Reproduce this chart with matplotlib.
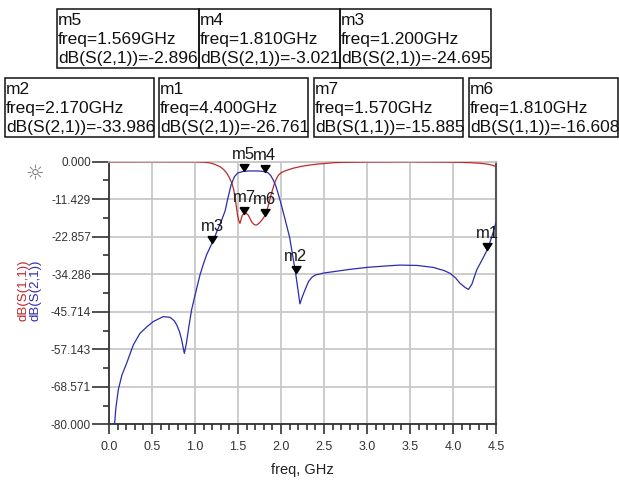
import numpy as np
import matplotlib
matplotlib.use('Agg')
import matplotlib.pyplot as plt
from matplotlib.patches import Rectangle
from matplotlib.path import Path

plt.rcParams['font.family'] = ['Liberation Sans', 'DejaVu Sans']

# S(2,1) trace (GHz, dB)
s21_freq = [0.065, 0.08, 0.108, 0.15, 0.205, 0.283, 0.36, 0.44, 0.515, 0.63, 0.71, 0.76,
            0.787, 0.82, 0.845, 0.876, 0.90, 0.93, 0.96, 0.99, 1.03, 1.06, 1.10, 1.136,
            1.20, 1.27, 1.30, 1.35, 1.38, 1.42, 1.46, 1.50, 1.569, 1.65, 1.75, 1.81,
            1.85, 1.88, 1.91, 1.94, 1.97, 2.00, 2.05, 2.10, 2.17, 2.20, 2.22, 2.25,
            2.28, 2.32, 2.36, 2.40, 2.50, 2.61, 2.80, 3.00, 3.20, 3.38, 3.58, 3.77,
            3.90, 3.965, 4.03, 4.08, 4.14, 4.18, 4.22, 4.275, 4.34, 4.40, 4.45, 4.50]
s21_db = [-80.0, -75.0, -69.5, -65.0, -61.4, -55.8, -52.3, -50.3, -48.7, -47.2, -47.4, -48.5,
          -49.7, -51.8, -54.3, -58.4, -55.3, -50.0, -45.2, -41.8, -37.5, -34.3, -31.0, -28.3,
          -24.695, -20.3, -18.5, -15.0, -11.4, -7.0, -4.5, -3.4, -2.896, -2.8, -2.85, -3.021,
          -3.4, -4.2, -5.6, -7.4, -10.0, -12.8, -17.8, -23.0, -33.986, -39.5, -43.3, -41.0,
          -39.0, -36.5, -35.2, -34.5, -33.9, -33.5, -32.8, -32.2, -31.8, -31.5, -31.6, -32.2,
          -33.2, -34.0, -35.4, -37.0, -38.3, -38.9, -37.3, -33.0, -29.8, -26.761, -23.0, -18.5]

# S(1,1) trace
s11_freq = [0.0, 0.5, 1.0, 1.10, 1.17, 1.23, 1.29, 1.33, 1.37, 1.40, 1.43, 1.45, 1.465,
            1.48, 1.495, 1.51, 1.523, 1.535, 1.55, 1.57, 1.59, 1.62, 1.66, 1.69, 1.717,
            1.75, 1.78, 1.81, 1.835, 1.86, 1.885, 1.91, 1.93, 1.95, 1.97, 2.00, 2.03,
            2.08, 2.14, 2.24, 2.34, 2.43, 2.53, 2.62, 2.72, 3.00, 3.50, 4.00, 4.10,
            4.20, 4.30, 4.39, 4.45, 4.50]
s11_db = [-0.05, -0.02, -0.05, -0.15, -0.35, -0.8, -1.5, -2.3, -3.5, -4.9, -6.6, -8.5, -10.7,
          -13.5, -16.3, -18.0, -18.8, -17.6, -16.3, -15.885, -15.6, -16.3, -18.4, -19.2, -19.3,
          -18.6, -17.7, -16.608, -15.0, -12.6, -10.0, -7.8, -6.2, -5.0, -4.1, -3.4, -3.0,
          -2.5, -2.0, -1.4, -1.0, -0.7, -0.5, -0.3, -0.2, -0.1, -0.05, -0.15, -0.2,
          -0.3, -0.45, -0.7, -1.0, -1.5]

# markers
mk_names = ['m1', 'm2', 'm3', 'm4', 'm5', 'm6', 'm7']
mk_freq = [4.400, 2.170, 1.200, 1.810, 1.569, 1.810, 1.570]
mk_db = [-26.761, -33.986, -24.695, -3.021, -2.896, -16.608, -15.885]
mk_trace = ['S(2,1)', 'S(2,1)', 'S(2,1)', 'S(2,1)', 'S(2,1)', 'S(1,1)', 'S(1,1)']
box_row1 = ['m5', 'm4', 'm3']
box_row2 = ['m2', 'm1', 'm7', 'm6']

red = '#c0282a'
blue = '#2b2bb0'
grid_c = '#c8c8c8'
W, H = 619, 480

fig = plt.figure(figsize=(W / 100, H / 100), dpi=100)

# overlay in pixel coordinates for the marker readout boxes
ov = fig.add_axes([0, 0, 1, 1])
ov.set_xlim(0, W)
ov.set_ylim(H, 0)
ov.axis('off')

def draw_box(name, x0, y0, w):
    i = mk_names.index(name)
    ov.add_patch(Rectangle((x0, y0), w, 59, fill=False, edgecolor='#111111', lw=1.1))
    lines = [name, 'freq=%.3fGHz' % mk_freq[i], 'dB(%s)=%.3f' % (mk_trace[i], mk_db[i])]
    for k, s in enumerate(lines):
        ov.text(x0 + 1, y0 + 16 + 19 * k, s, fontsize=12.5, color='#111111',
                va='baseline', ha='left')

x = 57
for name, w in zip(box_row1, [142, 141, 151]):
    draw_box(name, x, 9, w)
    x += w
for name, x in zip(box_row2, [5, 159, 314, 469]):
    draw_box(name, x, 78, 149)

# main plot
left, right = 109 / W, 496 / W
bottom, top = 1 - 424.3 / H, 1 - 161.7 / H
ax = fig.add_axes([left, bottom, right - left, top - bottom])

ax.plot(s11_freq, s11_db, color=red, lw=0.9, zorder=3)
ax.plot(s21_freq, s21_db, color=blue, lw=0.9, zorder=3)

tri = Path([(-0.65, 1.0), (0.65, 1.0), (0.0, 0.0), (-0.65, 1.0)])
for n, f, d in zip(mk_names, mk_freq, mk_db):
    ax.plot([f], [d], marker=tri, markersize=10, color='black', ls='none',
            zorder=5, clip_on=False)
    ax.annotate(n, (f, d), xytext=(0, 8.5), textcoords='offset points',
                ha='center', va='baseline', fontsize=12, color='#1a1a1a',
                annotation_clip=False, zorder=6)

ax.set_xlim(0, 4.5)
ax.set_ylim(-80, 0)
yt = np.linspace(0, -80, 8)
ax.set_yticks(yt)
ax.set_yticklabels(['%.3f' % v for v in yt])
ax.set_yticks((yt[:-1] + yt[1:]) / 2, minor=True)
ax.set_xticks(np.arange(0, 4.51, 0.5))
ax.set_xticklabels(['%.1f' % v for v in np.arange(0, 4.51, 0.5)])
ax.set_xticks(np.arange(0, 4.51, 0.1), minor=True)

ax.grid(True, which='major', color=grid_c, lw=1.3)
ax.set_axisbelow(True)
ax.tick_params(axis='y', which='major', direction='out', length=12, width=1.2,
               color='#333333', labelsize=8.5, labelcolor='#333333', pad=1)
ax.tick_params(axis='y', which='minor', direction='out', length=4, width=1.2, color='#333333')
ax.tick_params(axis='x', which='major', direction='out', length=7, width=1.2,
               color='#333333', labelsize=9, labelcolor='#333333', pad=5)
ax.tick_params(axis='x', which='minor', direction='out', length=4.5, width=1.2, color='#333333')

for s in ['left', 'bottom']:
    ax.spines[s].set_color('#333333')
    ax.spines[s].set_linewidth(1.3)
ax.spines['right'].set_color('#555555')
ax.spines['right'].set_linewidth(1.5)
ax.spines['top'].set_color(grid_c)
ax.spines['top'].set_linewidth(1.3)

# x label placed in pixel coordinates under the axis
ov.text(302.5, 470, 'freq, GHz', fontsize=10.5, color='#222222',
        ha='center', va='center')

# stacked y labels
ov.text(24, 290, 'dB(S(1,1))', color=red, rotation=90, fontsize=9.5,
        ha='center', va='center')
ov.text(36, 290, 'dB(S(2,1))', color=blue, rotation=90, fontsize=9.5,
        ha='center', va='center')
ov.text(35, 173, '\u263c', color='#777777', fontsize=15, ha='center', va='center',
        family='DejaVu Sans')

fig.savefig('out.png', dpi=100)
